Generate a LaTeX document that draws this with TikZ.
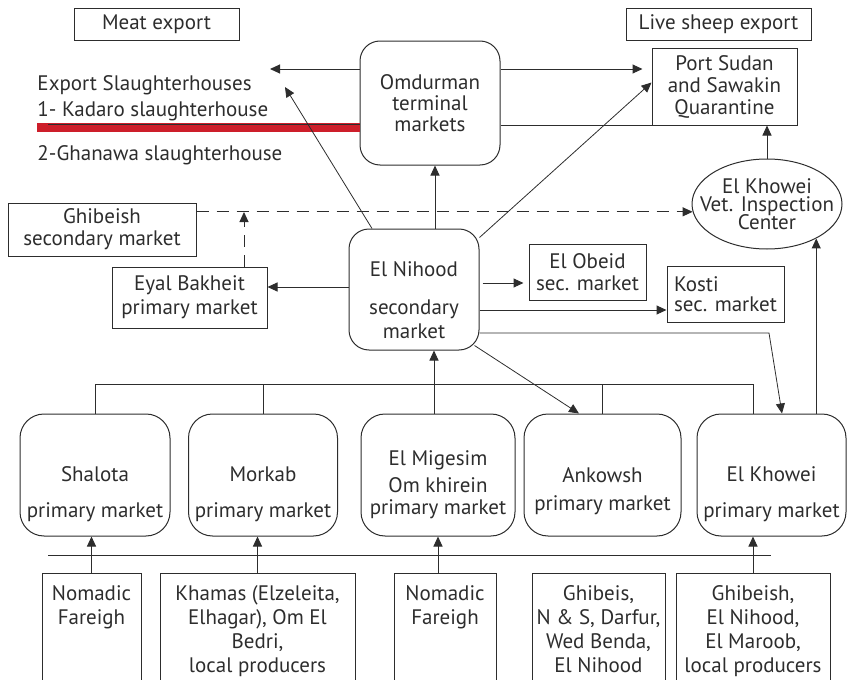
\documentclass[tikz,border=0pt]{standalone}
\usepackage{fontspec}
\setmainfont{PT Sans}
\usetikzlibrary{shapes,positioning,calc,arrows.meta}
\definecolor{ink}{RGB}{45,45,45}
\definecolor{barred}{RGB}{205,30,42}
\newcommand{\vpad}[1]{\rule{0pt}{#1}}

\begin{document}
\begin{tikzpicture}[x=0.5pt, y=-0.5pt, color=ink, line width=0.5pt,
                >={Triangle[length=5pt,width=4.5pt]},
                every node/.append style={font=\fontsize{10.5}{12}\selectfont, align=center, inner sep=0pt},
                sqbox/.style 2 args={draw, minimum width=#1, minimum height=#2},
                rbox/.style 2 args={draw, rounded corners=10pt, minimum width=#1, minimum height=#2},
                pbox/.style={draw, rounded corners=12pt, minimum width=#1, minimum height=61pt},
                src/.style={draw, anchor=north, minimum width=#1, inner ysep=6pt, text depth=60pt},
                thinarrow/.style={->, line width=0.4pt}]
    \clip (0,0) rectangle (848,680);

    % export side
    \node[sqbox={82.5pt}{16pt}] (meat) at (156.5,24) {Meat export};
    \node[sqbox={92.5pt}{16pt}] (live) at (718.5,24) {Live sheep export};
    \node[rbox={70pt}{62pt}] (omdurman) at (430,103) {Omdurman\\[-1.5pt]terminal\\[-1.5pt]markets};
    \node[sqbox={72.5pt}{38.5pt}] (portsudan) at (724.5,86.5) {Port Sudan\\[-1pt]and Sawakin\\[-1pt]Quarantine};
    \node[draw, ellipse, minimum width=75pt, minimum height=45pt,
          label={center:El Khowei\\[-3pt]Vet. Inspection\\[-3pt]Center}] (vet) at (767,204) {};
    \node[anchor=north west, align=left] (exportsl) at (37,75) {Export Slaughterhouses\\[1pt]1- Kadaro slaughterhouse};
    \node[anchor=north west] (ghanawa) at (37,145) {2-Ghanawa slaughterhouse};
    \fill[barred] (37,123) rectangle (360,132);
    \coordinate (slaughter) at (270,69);
    \coordinate (slaughter2) at (285,87);
    \coordinate (kadaro) at (48,124);

    % secondary markets
    \node[sqbox={94pt}{26.5pt}] (ghibeish) at (102,229.5) {Ghibeish\\[-1pt]secondary market};
    \node[sqbox={77.5pt}{30.5pt}] (eyal) at (189.5,297.5) {Eyal Bakheit\\primary market};
    \node[rbox={65pt}{60.5pt}] (nihood) at (414,289.5) {\vpad{18pt}El Nihood\\[7pt]secondary\\market};
    \node[sqbox={58.5pt}{28pt}] (obeid) at (587.5,272) {El Obeid\\[-1pt]sec. market};
    \node[sqbox={58.5pt}{28pt}, align=left] (kosti) at (725.5,294) {Kosti\\[-2pt]sec. market};
    \coordinate (ghjoin) at (244,212);

    % primary markets
    \node[pbox=75pt] (shalota) at (95,475) {\vpad{27pt}Shalota\\[6pt]primary market};
    \node[pbox=74.5pt] (morkab) at (263,475) {\vpad{27pt}Morkab\\[6pt]primary market};
    \node[pbox=77pt] (migesim) at (438,475) {\vpad{17pt}El Migesim\\[1.5pt]Om khirein\\[-1pt]primary market};
    \node[pbox=78.5pt] (ankowsh) at (602.5,475) {\vpad{24pt}Ankowsh\\[2pt]primary market};
    \node[pbox=74.5pt] (khoweip) at (771.5,475) {\vpad{27pt}El Khowei\\[6pt]primary market};
    \coordinate (bus) at (0,384);

    % producers
    \node[src=49.5pt] (src1) at (91.5,573) {Nomadic\\Fareigh};
    \node[src=97.5pt] (src2) at (257.5,573) {Khamas (Elzeleita,\\Elhagar), Om El\\Bedri,\\local producers};
    \node[src=51pt] (src3) at (445,573) {Nomadic\\Fareigh};
    \node[src=66.5pt] (src4) at (598.5,573) {Ghibeis,\\N \& S, Darfur,\\Wed Benda,\\El Nihood};
    \node[src=77pt] (src5) at (753,573) {Ghibeish,\\El Nihood,\\El Maroob,\\local producers};
    \coordinate (feedL) at (48,555);
    \coordinate (feedR) at (771,555);

    % flows
    \draw (omdurman.west |- kadaro) -- (kadaro);
    \draw[->] (omdurman.west |- slaughter) -- (slaughter);
    \draw[thinarrow] (nihood.north -| 372,0) -- (slaughter2);
    \draw[->, shorten >=4.5pt] (omdurman.east |- 0,69) -- (portsudan.west |- 0,69);
    \draw (omdurman.east |- portsudan.south) -- (portsudan.south west);
    \draw[thinarrow] ([yshift=-4.5pt]nihood.north east) -- ([yshift=2pt]portsudan.west);
    \draw[->] (vet.north) -- (vet.north |- portsudan.south);
    \begin{scope}[dash pattern=on 6pt off 4pt]
        \draw[->] (ghibeish.east |- vet.186) -- (vet.186);
        \draw[->] (eyal.north -| ghjoin) -- (ghjoin);
    \end{scope}
    \draw[->] (nihood.west |- 0,287) -- (eyal.east |- 0,287);
    \draw[->] (nihood.north -| 435,0) -- (omdurman.south -| 435,0);
    \draw[->, shorten <=1.5pt, shorten >=2.5pt] (nihood.east |- 0,283) -- (obeid.west |- 0,283);
    \draw[->] (nihood.east |- 0,310) -- (kosti.west |- 0,310);
    \draw[thinarrow] (nihood.east |- 0,333) -- (769,333) -- (khoweip.north -| 782,0);
    \draw[thinarrow] ([xshift=-2.5pt,yshift=2.5pt]nihood.south east) -- (ankowsh.north -| 579,0);

    \draw (shalota.north) -- (shalota.north |- bus) -| (khoweip.north -| 753,0);
    \draw (morkab.north) -- (morkab.north |- bus);
    \draw (ankowsh.north) -- (ankowsh.north |- bus);
    \draw[->] (migesim.north -| 434,0) -- (nihood.south -| 434,0);
    \draw[->] (khoweip.north -| vet.325) -- (vet.325);

    \draw (feedL) -- (feedR);
    \draw[->] (src1.north) -- (src1.north |- shalota.south);
    \draw[->] (src2.north) -- (src2.north |- morkab.south);
    \draw[->] (src3.north -| migesim.south) -- (migesim.south);
    \draw[->] (src5.north) -- (src5.north |- khoweip.south);
\end{tikzpicture}
\end{document}
